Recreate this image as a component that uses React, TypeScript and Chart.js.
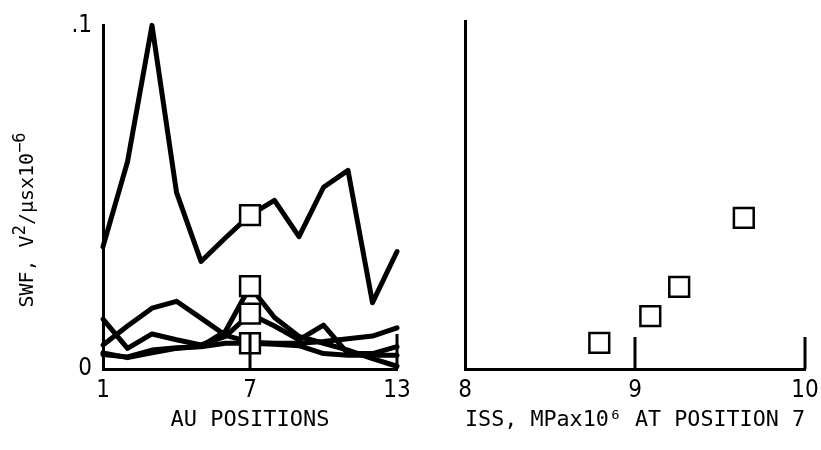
import React, { useEffect, useRef } from "react";
import { Chart, registerables } from "chart.js";

Chart.register(...registerables);

// ---- data ----
const positions = [1, 2, 3, 4, 5, 6, 7, 8, 9, 10, 11, 12, 13];
const swfUpper = [0.0356, 0.0603, 0.1, 0.0514, 0.0313, 0.0382, 0.0448, 0.0491, 0.0385, 0.0529, 0.0578, 0.0193, 0.0342];
const swfLowerA = [0.0145, 0.006, 0.0102, 0.0085, 0.007, 0.0095, 0.016, 0.0125, 0.0085, 0.0128, 0.0045, 0.0045, 0.0065];
const swfLowerB = [0.007, 0.0125, 0.0177, 0.0197, 0.0148, 0.0098, 0.0078, 0.0075, 0.0075, 0.008, 0.0088, 0.0096, 0.012];
const swfLowerC = [0.0047, 0.0033, 0.0047, 0.006, 0.0066, 0.011, 0.024, 0.015, 0.0095, 0.0075, 0.0055, 0.003, 0.0008];
const swfLowerD = [0.0042, 0.0035, 0.0055, 0.0062, 0.0065, 0.0075, 0.0075, 0.0072, 0.0068, 0.0045, 0.004, 0.004, 0.004];
const markedPosition = 7;
const swfAtPos7 = [0.0448, 0.0241, 0.0161, 0.0075];
const issAtPos7 = [9.64, 9.26, 9.09, 8.79];
const swfVsIss = [0.0434, 0.0236, 0.0152, 0.0075];

const leftXTicks = [1, 7, 13];
const rightXTicks = [8, 9, 10];
const yTickValues = [0, 0.1];
const yTickLabels = ["0", ".1"];

const leftXTitle = "AU POSITIONS";
const rightXTitle = "ISS, MPax10⁶ AT POSITION 7";
// y title pieces: [text, isSuperscript]
const yTitleParts: [string, boolean][] = [
  ["SWF, V", false],
  ["2", true],
  ["/μsx10", false],
  ["−6", true],
];

const tickFont = {
  family: "'DejaVu Sans', sans-serif",
  size: 24,
  style: "normal" as const,
  weight: "condensed" as any,
};
const titleFont = { family: "'DejaVu Sans Mono', monospace", size: 22 };

const innerTicks = {
  id: "innerTicks",
  afterDatasetsDraw(chart: any, _args: any, opts: any) {
    const { ctx, chartArea } = chart;
    const x = chart.scales.x;
    ctx.save();
    ctx.strokeStyle = "#000";
    ctx.lineWidth = 3;
    for (const v of opts.values || []) {
      const px = x.getPixelForValue(v);
      ctx.beginPath();
      ctx.moveTo(px, chartArea.bottom);
      ctx.lineTo(px, chartArea.bottom - opts.length);
      ctx.stroke();
    }
    ctx.restore();
  },
};

const yTitlePlugin = {
  id: "yTitle",
  afterDraw(chart: any, _args: any, opts: any) {
    if (!opts || !opts.parts) return;
    const { ctx } = chart;
    const normalFont = "20px 'DejaVu Sans Mono', monospace";
    const supFont = "17px 'DejaVu Sans Mono', monospace";
    ctx.save();
    ctx.translate(opts.x, opts.y);
    ctx.rotate(-Math.PI / 2);
    ctx.fillStyle = "#000";
    ctx.textAlign = "left";
    ctx.textBaseline = "alphabetic";
    let total = 0;
    for (const [t, sup] of opts.parts) {
      ctx.font = sup ? supFont : normalFont;
      total += ctx.measureText(t).width;
    }
    let cx = -total / 2;
    for (const [t, sup] of opts.parts) {
      ctx.font = sup ? supFont : normalFont;
      ctx.fillText(t, cx, sup ? -1 : 7);
      cx += ctx.measureText(t).width;
    }
    ctx.restore();
  },
};

function lineSet(values: number[]) {
  return {
    type: "line" as const,
    data: positions.map((p, i) => ({ x: p, y: values[i] })),
    borderColor: "#000",
    borderWidth: 5,
    pointRadius: 0,
    tension: 0,
    borderJoinStyle: "round" as const,
    borderCapStyle: "round" as const,
    clip: false as any,
    order: 1,
  };
}

function squareSet(xs: number[], ys: number[]) {
  return {
    type: "line" as const,
    data: xs.map((x, i) => ({ x, y: ys[i] })),
    showLine: false,
    pointStyle: "rect" as const,
    pointRadius: 14,
    pointBorderWidth: 2.5,
    pointBorderColor: "#000",
    pointBackgroundColor: "#fff",
    clip: false as any,
    order: 0,
  };
}

function yScale(width: number, showLabels: boolean) {
  return {
    type: "linear" as const,
    min: 0,
    max: 0.1,
    afterBuildTicks: (s: any) => {
      s.ticks = yTickValues.map((v) => ({ value: v }));
    },
    afterFit: (s: any) => {
      s.width = width;
    },
    grid: { display: false, drawTicks: false },
    border: { display: true, color: "#000", width: 3 },
    ticks: {
      display: showLabels,
      color: "#000",
      padding: 11,
      font: tickFont,
      callback: (v: any) => {
        const i = yTickValues.indexOf(Number(v));
        return i >= 0 ? yTickLabels[i] : "";
      },
    },
  };
}

function xScale(min: number, max: number, ticks: number[], title: string) {
  return {
    type: "linear" as const,
    min,
    max,
    afterBuildTicks: (s: any) => {
      s.ticks = ticks.map((v) => ({ value: v }));
    },
    afterFit: (s: any) => {
      s.height = 81;
    },
    grid: { display: false, drawTicks: false },
    border: { display: true, color: "#000", width: 3 },
    ticks: {
      color: "#000",
      padding: 7,
      maxRotation: 0,
      autoSkip: false,
      font: tickFont,
      callback: (v: any) => String(v),
    },
    title: {
      display: true,
      text: title,
      color: "#000",
      font: titleFont,
      padding: { top: 0, bottom: 17 },
    },
  };
}

export default function App() {
  const leftRef = useRef<HTMLCanvasElement | null>(null);
  const rightRef = useRef<HTMLCanvasElement | null>(null);

  useEffect(() => {
    if (!leftRef.current || !rightRef.current) return;
    const left = new Chart(leftRef.current, {
      type: "line",
      data: {
        datasets: [
          squareSet(swfAtPos7.map(() => markedPosition), swfAtPos7),
          lineSet(swfUpper),
          lineSet(swfLowerA),
          lineSet(swfLowerB),
          lineSet(swfLowerC),
          lineSet(swfLowerD),
        ] as any,
      },
      options: {
        animation: false,
        responsive: false,
        layout: { padding: { top: 21, right: 23, left: 0, bottom: 0 } },
        plugins: {
          legend: { display: false },
          tooltip: { enabled: false },
          innerTicks: { values: [7, 13], length: 35 },
          yTitle: { parts: yTitleParts, x: 26, y: 220 },
        } as any,
        scales: {
          x: xScale(1, 13, leftXTicks, leftXTitle),
          y: yScale(103, true),
        },
      },
      plugins: [innerTicks, yTitlePlugin],
    });

    const right = new Chart(rightRef.current, {
      type: "line",
      data: {
        datasets: [squareSet(issAtPos7, swfVsIss)] as any,
      },
      options: {
        animation: false,
        responsive: false,
        layout: { padding: { top: 21, right: 36, left: 0, bottom: 0 } },
        plugins: {
          legend: { display: false },
          tooltip: { enabled: false },
          innerTicks: { values: [9, 10], length: 32 },
        } as any,
        scales: {
          x: xScale(8, 10, rightXTicks, rightXTitle),
          y: yScale(45, false),
        },
      },
      plugins: [innerTicks],
    });

    return () => {
      left.destroy();
      right.destroy();
    };
  }, []);

  return (
    <div style={{ position: "fixed", left: 0, top: 0, width: 821, height: 450, background: "#fff", overflow: "hidden" }}>
      <canvas ref={leftRef} width={420} height={450} style={{ position: "absolute", left: 0, top: 0 }} />
      <canvas ref={rightRef} width={421} height={450} style={{ position: "absolute", left: 420, top: 0 }} />
    </div>
  );
}
